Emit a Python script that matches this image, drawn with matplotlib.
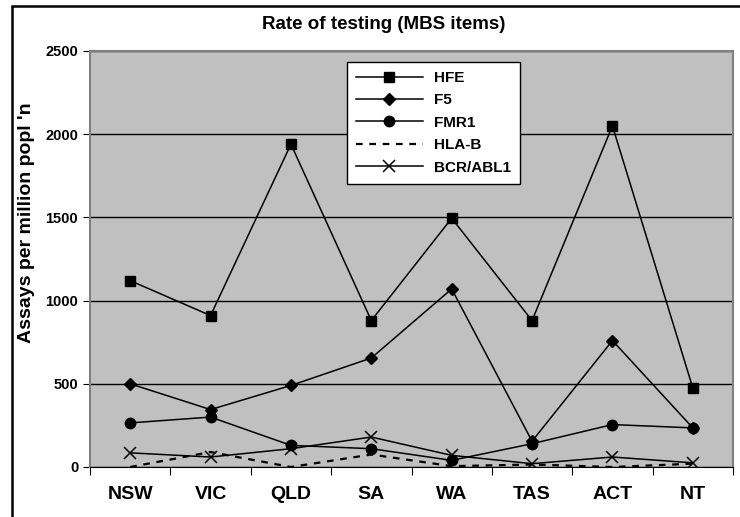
import matplotlib
matplotlib.use("Agg")
import matplotlib.pyplot as plt
from matplotlib.patches import Rectangle
import numpy as np

# данные
states = ["NSW", "VIC", "QLD", "SA", "WA", "TAS", "ACT", "NT"]
hfe = [1120, 910, 1940, 880, 1495, 880, 2050, 475]
f5 = [500, 345, 490, 655, 1070, 155, 760, 235]
fmr1 = [265, 300, 130, 110, 40, 140, 255, 235]
hla_b = [0, 90, 0, 75, 5, 15, 0, 20]
bcr_abl1 = [85, 60, 110, 180, 70, 20, 60, 25]

plt.rcParams['font.family'] = ['Liberation Sans', 'DejaVu Sans']
plt.rcParams['font.weight'] = 'bold'

fig = plt.figure(figsize=(7.4, 5.17), dpi=100)
ax = fig.add_axes([90 / 740, 50 / 517, 643 / 740, 416 / 517])
ax.set_facecolor('#c0c0c0')

x = np.arange(len(states))
kw = dict(color='black', lw=1.1)
ax.plot(x, hfe, marker='s', ms=7.5, label='HFE', **kw)
ax.plot(x, f5, marker='D', ms=6.5, label='F5', **kw)
ax.plot(x, fmr1, marker='o', ms=7.5, label='FMR1', **kw)
ax.plot(x, hla_b, ls=(0, (3, 3)), label='HLA-B', color='black', lw=1.6)
ax.plot(x, bcr_abl1, marker='x', ms=9, mew=1.1, label='BCR/ABL1', **kw)

ax.set_xlim(-0.5, len(states) - 0.5)
ax.set_ylim(0, 2500)
ax.set_yticks(np.arange(0, 2501, 500))
ax.yaxis.grid(True, color='black', lw=1)
ax.set_axisbelow(True)

# подписи категорий по центру, засечки между ними
ax.set_xticks(np.arange(-0.5, len(states), 1))
ax.set_xticklabels([])
ax.set_xticks(x, minor=True)
ax.set_xticklabels(states, minor=True, fontsize=14)
ax.tick_params(axis='x', which='minor', length=0, pad=14)
ax.tick_params(axis='x', which='major', length=6, direction='out')
ax.tick_params(axis='y', length=5, direction='out', labelsize=10.5)

for s in ['top', 'right', 'left']:
    ax.spines[s].set_color('#808080')
    ax.spines[s].set_linewidth(1.5)
ax.spines['bottom'].set_color('black')

ax.set_ylabel("Assays per million popl 'n", fontsize=14, fontweight='bold')
ax.yaxis.set_label_coords(-0.085, 0.587)
fig.text(0.518, 0.952, "Rate of testing (MBS items)", fontsize=13.5,
         fontweight='bold', ha='center', va='center')

leg = ax.legend(loc='upper left', bbox_to_anchor=(0.392, 0.985), fontsize=11,
                handlelength=4.4, handletextpad=0.7, fancybox=False,
                edgecolor='black', framealpha=1, borderpad=0.6,
                labelspacing=0.55, borderaxespad=0.3)
leg.get_frame().set_linewidth(1)

# рамка рисунка: видны только левая и верхняя стороны
fig.patches.append(Rectangle((12 / 740, -0.1), 1.2, (517 - 6) / 517 + 0.1,
                             transform=fig.transFigure, fill=False,
                             edgecolor='black', lw=1.8))

fig.savefig('out.png', dpi=100)
